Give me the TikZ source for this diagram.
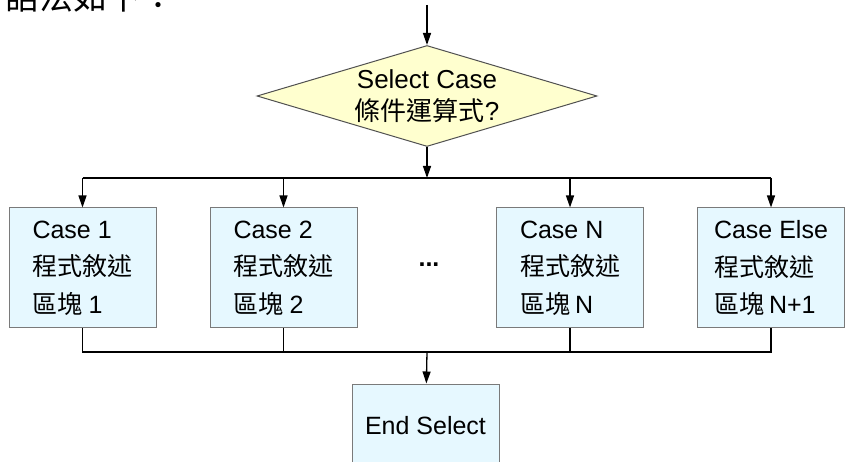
\documentclass[tikz,border=0pt]{standalone}
\usepackage{fontspec}
\setmainfont{Liberation Sans}
\newfontfamily\cjk{Noto Sans CJK TC}
\usetikzlibrary{shapes.geometric,arrows.meta}
\definecolor{boxfill}{HTML}{E6F8FF}
\definecolor{decfill}{HTML}{FFFFCF}
\definecolor{boxline}{HTML}{7A7A7A}
\definecolor{decline}{HTML}{505050}
\begin{document}
\begin{tikzpicture}[x=1pt,y=-1pt,
  conn/.style={line width=1.3pt, black},
  arr/.style={conn, -{Triangle[length=12pt,width=8pt]}},
  casebox/.style={draw=boxline, line width=1pt, fill=boxfill, minimum width=147pt, minimum height=120pt, inner sep=0pt, align=left, font=\fontsize{25pt}{37.5pt}\selectfont},
  decision/.style={diamond, aspect=3.37, draw=decline, line width=1pt, fill=decfill, minimum width=340pt, minimum height=101pt, inner sep=0pt, align=center, font=\fontsize{26pt}{32pt}\selectfont}]
\useasboundingbox (0,0) rectangle (846,462);
\clip (0,0) rectangle (846,462);

\node[anchor=base west, inner sep=0pt, font=\fontsize{34pt}{40pt}\selectfont\cjk] (intro) at (5,9.5) {語法如下：};

\coordinate (top) at (427,5);
\node[decision] (dec) at (427,96) {Select Case\\{\cjk 條件運算式}?};
\coordinate (split) at (427,178);
\coordinate (join) at (427,352);

\node[casebox] (c1) at (82.5,268) {Case 1\\{\cjk 程式敘述}\\{\cjk 區塊}\kern6pt 1};
\node[casebox] (c2) at (283.5,268) {Case 2\\{\cjk 程式敘述}\\{\cjk 區塊}\kern6pt 2};
\node[font=\fontsize{25pt}{30pt}\selectfont\bfseries, inner sep=0pt] (dots) at (429,265) {...};
\node[casebox] (cn) at (570,268) {Case N\\{\cjk 程式敘述}\\{\cjk 區塊}\kern5pt N};
\node[casebox] (ce) at (771,268) {Case Else\\{\cjk 程式敘述}\\{\cjk 區塊}\kern5pt N+1};

\node[casebox, align=center, minimum height=84pt] (end) at (425.5,426) {End Select};

\draw[arr] (top) -- (dec);
\draw[arr] (dec) -- (split);
\draw[conn] (c1 |- split) -- (ce |- split);
\draw[arr] (c1 |- split) -- (c1);
\draw[arr] (c2 |- split) -- (c2);
\draw[arr] (cn |- split) -- (cn);
\draw[arr] (ce |- split) -- (ce);

\draw[conn] (c1) -- (c1 |- join) -- (ce |- join) -- (ce);
\draw[conn] (c2) -- (c2 |- join);
\draw[conn] (cn) -- (cn |- join);
\draw[arr] (join) -- (end);
\end{tikzpicture}
\end{document}
